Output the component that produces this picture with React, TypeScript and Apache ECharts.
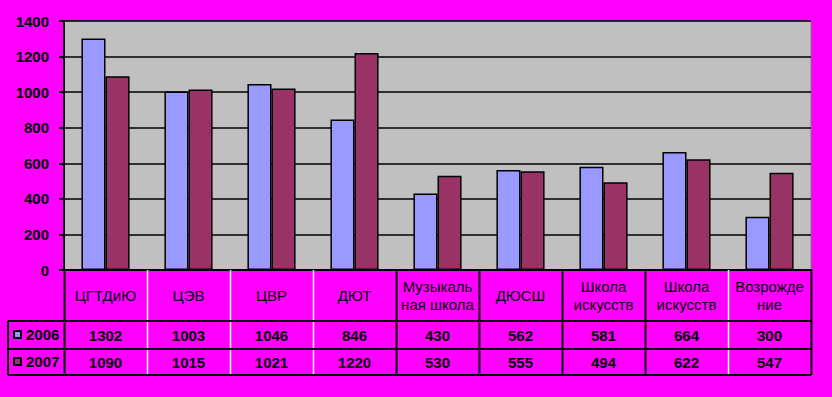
import React, { useEffect, useRef } from "react";
import * as echarts from "echarts";

const categories = [
  "ЦГТДиЮ",
  "ЦЭВ",
  "ЦВР",
  "ДЮТ",
  "Музыкаль\nная школа",
  "ДЮСШ",
  "Школа\nискусств",
  "Школа\nискусств",
  "Возрожде\nние",
];
const seriesNames = ["2006", "2007"];
const values2006 = [1302, 1003, 1046, 846, 430, 562, 581, 664, 300];
const values2007 = [1090, 1015, 1021, 1220, 530, 555, 494, 622, 547];
const yTicks = [0, 200, 400, 600, 800, 1000, 1200, 1400];

const FONT = "'Liberation Sans', Arial, sans-serif";
const shadow = {
  textShadowColor: "#ffffff",
  textShadowOffsetX: -1,
  textShadowOffsetY: -1,
  textShadowBlur: 0,
};

export default function App() {
  const ref = useRef<HTMLDivElement>(null);
  useEffect(() => {
    if (!ref.current) return;
    const chart = echarts.init(ref.current, null, { renderer: "svg" });
    const L = 64, R = 811, T = 21, B = 270;
    const rowTops = [270, 321, 349, 375];
    const n = categories.length;
    const cw = (R - L) / n;
    const lines: any[] = [];
    const black = { stroke: "#000", lineWidth: 2 };
    lines.push({ type: "line", shape: { x1: 8, y1: rowTops[1], x2: R, y2: rowTops[1] }, style: black, z: 100 });
    lines.push({ type: "line", shape: { x1: 8, y1: rowTops[2], x2: R, y2: rowTops[2] }, style: black, z: 100 });
    lines.push({ type: "line", shape: { x1: 8, y1: rowTops[3], x2: R, y2: rowTops[3] }, style: black, z: 100 });
    lines.push({ type: "line", shape: { x1: 8, y1: rowTops[1], x2: 8, y2: rowTops[3] }, style: black, z: 100 });
    for (let i = 0; i <= n; i++) {
      const x = Math.round(L + i * cw) + 0.5;
      const isBlack = i === 0 || i === n || (i >= 4 && i <= 7);
      lines.push({
        type: "line",
        shape: { x1: x, y1: B, x2: x, y2: rowTops[3] },
        style: { stroke: isBlack ? "#000" : "#fff", lineWidth: isBlack ? 2 : 1.5 },
        z: 99,
      });
    }
    chart.setOption({
      animation: false,
      backgroundColor: "#FF00FF",
      textStyle: { fontFamily: FONT },
      grid: {
        left: L,
        right: 832 - R,
        top: T,
        bottom: 397 - B,
        show: true,
        backgroundColor: "#C0C0C0",
        borderColor: "#808080",
        borderWidth: 1,
        containLabel: false,
      },
      legend: {
        orient: "vertical",
        left: 8,
        top: 322,
        itemWidth: 7,
        itemHeight: 7,
        itemGap: 12,
        icon: "rect",
        data: seriesNames,
        textStyle: { fontFamily: FONT, fontSize: 15, fontWeight: "bold", color: "#000", ...shadow },
      },
      xAxis: [
        {
          type: "category",
          data: categories,
          position: "bottom",
          axisLine: { show: true, lineStyle: { color: "#000", width: 2 } },
          axisTick: { show: false },
          axisLabel: {
            interval: 0,
            margin: 25,
            verticalAlign: "middle",
            lineHeight: 18,
            fontFamily: FONT,
            fontSize: 15,
            color: "#000",
            ...shadow,
          },
        },
        {
          type: "category",
          data: categories,
          position: "bottom",
          axisLine: { show: false },
          axisTick: { show: false },
          axisLabel: {
            interval: 0,
            margin: 65,
            verticalAlign: "middle",
            fontFamily: FONT,
            fontSize: 15,
            fontWeight: "bold",
            color: "#000",
            formatter: (_v: string, i: number) => String(values2006[i]),
            ...shadow,
          },
        },
        {
          type: "category",
          data: categories,
          position: "bottom",
          axisLine: { show: false },
          axisTick: { show: false },
          axisLabel: {
            interval: 0,
            margin: 92,
            verticalAlign: "middle",
            fontFamily: FONT,
            fontSize: 15,
            fontWeight: "bold",
            color: "#000",
            formatter: (_v: string, i: number) => String(values2007[i]),
            ...shadow,
          },
        },
      ],
      yAxis: {
        type: "value",
        min: yTicks[0],
        max: yTicks[yTicks.length - 1],
        interval: yTicks[1] - yTicks[0],
        axisLine: { show: true, lineStyle: { color: "#000", width: 2 } },
        axisTick: { show: true, length: 5, lineStyle: { color: "#000", width: 2 } },
        axisLabel: {
          margin: 15,
          fontFamily: FONT,
          fontSize: 15,
          fontWeight: "bold",
          color: "#000",
          formatter: (v: number) => String(v),
          ...shadow,
        },
        splitLine: { show: true, lineStyle: { color: "#000", width: 1.5 } },
      },
      series: [
        {
          name: seriesNames[0],
          type: "bar",
          data: values2006,
          barGap: "0%",
          barCategoryGap: "42%",
          itemStyle: { color: "#9999FF", borderColor: "#000", borderWidth: 1.5 },
        },
        {
          name: seriesNames[1],
          type: "bar",
          data: values2007,
          barGap: "0%",
          barCategoryGap: "42%",
          itemStyle: { color: "#993366", borderColor: "#000", borderWidth: 1.5 },
        },
      ],
      graphic: lines,
    });
    return () => chart.dispose();
  }, []);
  return (
    <div
      ref={ref}
      style={{ position: "fixed", left: 0, top: 0, width: 832, height: 397 }}
    />
  );
}
